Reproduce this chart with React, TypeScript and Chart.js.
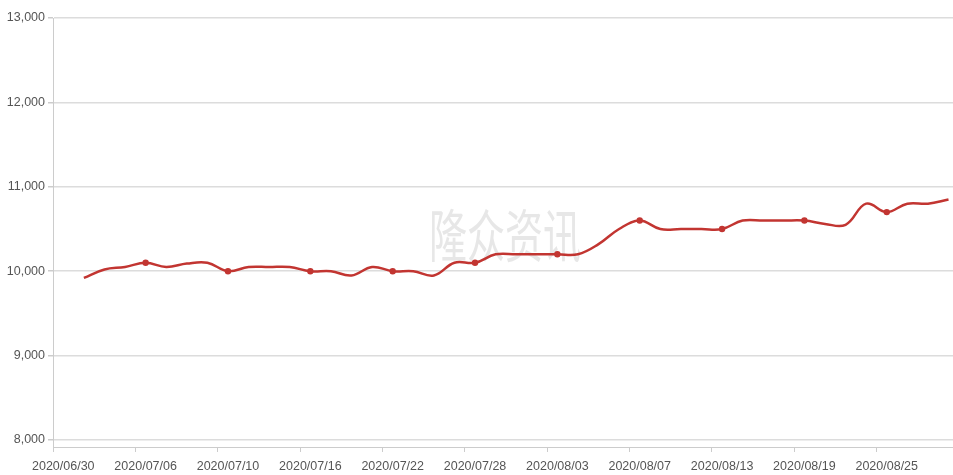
import React, { useEffect, useRef } from "react";
import { Chart, registerables } from "chart.js";

Chart.register(...registerables);

const dates: string[] = [
  "2020/06/30", "2020/07/01", "2020/07/02", "2020/07/03", "2020/07/06", "2020/07/07", "2020/07/08", "2020/07/09",
  "2020/07/10", "2020/07/13", "2020/07/14", "2020/07/15", "2020/07/16", "2020/07/17", "2020/07/20", "2020/07/21",
  "2020/07/22", "2020/07/23", "2020/07/24", "2020/07/27", "2020/07/28", "2020/07/29", "2020/07/30", "2020/07/31",
  "2020/08/03", "2020/08/04", "2020/08/05", "2020/08/06", "2020/08/07", "2020/08/10", "2020/08/11", "2020/08/12",
  "2020/08/13", "2020/08/14", "2020/08/17", "2020/08/18", "2020/08/19", "2020/08/20", "2020/08/21", "2020/08/24",
  "2020/08/25", "2020/08/26", "2020/08/27", "2020/08/28",
];

const prices: (number | null)[] = [
  null, 9920, 10020, 10050, 10100, 10050, 10090, 10100,
  10000, 10050, 10050, 10050, 10000, 10000, 9950, 10050,
  10000, 10000, 9950, 10100, 10100, 10200, 10200, 10200,
  10200, 10200, 10320, 10500, 10600, 10500, 10500, 10500,
  10500, 10600, 10600, 10600, 10600, 10560, 10550, 10800,
  10700, 10800, 10800, 10850,
];

const yTicks: number[] = [8000, 9000, 10000, 11000, 12000, 13000];
const watermark = "隆众资讯";

const RED = "#c23531";
const AXIS = "#cccccc";
const GRID = "#dcdcdc";
const FONT = "'Liberation Sans', sans-serif";

export default function App() {
  const ref = useRef<HTMLCanvasElement | null>(null);

  useEffect(() => {
    if (!ref.current) return;
    const wmPlugin = {
      id: "wm",
      beforeDatasetsDraw(chart: any) {
        const c = chart.ctx;
        c.save();
        c.fillStyle = "#e7e7e7";
        c.font = "38px 'Noto Sans CJK SC'";
        c.textAlign = "center";
        c.textBaseline = "middle";
        c.translate(505, 235);
        c.scale(1, 1.5);
        c.fillText(watermark, 0, 0);
        c.restore();
      },
    };
    const chart = new Chart(ref.current, {
      type: "line",
      data: {
        labels: dates,
        datasets: [
          {
            data: prices,
            borderColor: RED,
            backgroundColor: RED,
            borderWidth: 2.5,
            tension: 0.4,
            pointRadius: (ctx: any) => (ctx.dataIndex % 4 === 0 ? 3.2 : 0),
            pointHoverRadius: 3.2,
            pointStyle: "circle",
            pointBorderWidth: 0,
            fill: false,
          },
        ],
      },
      options: {
        animation: false,
        responsive: false,
        maintainAspectRatio: false,
        layout: { padding: { top: 18, right: 2, left: 0, bottom: 0 } },
        plugins: { legend: { display: false }, tooltip: { enabled: false } },
        scales: {
          x: {
            offset: true,
            afterFit: (s: any) => {
              s.height = 28;
            },
            grid: {
              offset: true,
              drawOnChartArea: false,
              drawTicks: true,
              tickLength: 5,
              tickColor: (ctx: any) => (ctx.index % 4 === 0 ? AXIS : "rgba(0,0,0,0)"),
            },
            border: { display: true, color: AXIS, width: 1 },
            ticks: {
              autoSkip: false,
              maxRotation: 0,
              minRotation: 0,
              padding: 7,
              color: "#555",
              font: { family: FONT, size: 12.5 },
              callback: (_v: any, i: number) => (i % 4 === 0 ? dates[i] : ""),
            },
          },
          y: {
            min: 7917,
            max: 13000,
            afterFit: (s: any) => {
              s.width = 53;
            },
            afterBuildTicks: (s: any) => {
              s.ticks = yTicks.map((v) => ({ value: v }));
            },
            grid: {
              color: GRID,
              lineWidth: 1.5,
              drawTicks: true,
              tickLength: 5,
              tickColor: AXIS,
            },
            border: { display: true, color: AXIS, width: 1 },
            ticks: {
              padding: 3,
              color: "#555",
              font: { family: FONT, size: 12.5 },
              callback: (v: any) => Number(v).toLocaleString("en-US"),
            },
          },
        },
      },
      plugins: [wmPlugin],
    });
    return () => chart.destroy();
  }, []);

  return (
    <div style={{ position: "fixed", left: 0, top: 0, width: 962, height: 475, background: "#fff" }}>
      <canvas ref={ref} width={962} height={475} style={{ display: "block" }} />
    </div>
  );
}
